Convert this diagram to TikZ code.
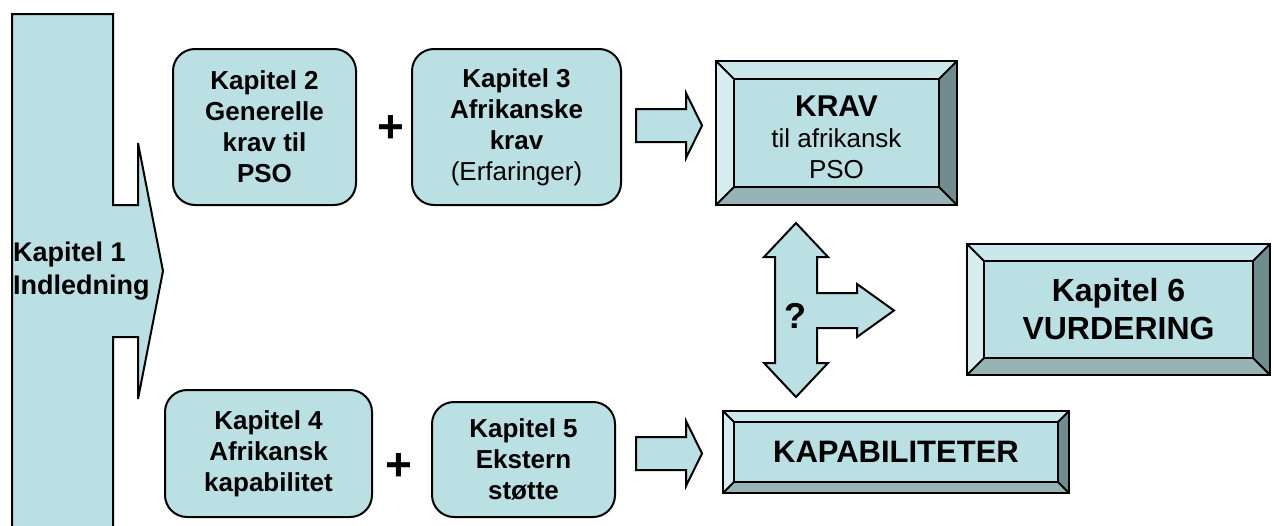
\documentclass[tikz,border=0pt]{standalone}
\usepackage{fontspec}
\setmainfont{Liberation Sans}
\usetikzlibrary{calc}
\definecolor{fillc}{RGB}{187,224,227}
\definecolor{bevtop}{RGB}{202,232,235}
\definecolor{bevleft}{RGB}{216,237,239}
\definecolor{bevright}{RGB}{112,140,142}
\definecolor{bevbot}{RGB}{150,179,182}
\tikzset{
  blockshape/.style={draw=black, line width=2pt, fill=fillc, line join=miter},
  chapbox/.style={draw=black, line width=2pt, fill=fillc, rounded corners=22pt, align=center, inner sep=0pt,
    font=\fontsize{26}{31}\selectfont\bfseries},
  bevbox/.style={fill=fillc, draw=none, inner sep=0pt, align=center},
  bevline/.style={draw=black, line width=2pt, line join=miter},
  plussign/.style={inner sep=0pt, font=\fontsize{46}{46}\selectfont\bfseries},
}
\newcommand\drawbevel[2]{%
  \fill[bevtop] (#1.north west) -- (#1.north east) -- ($(#1.north east)+(-#2,#2)$) -- ($(#1.north west)+(#2,#2)$) -- cycle;
  \fill[bevleft] (#1.north west) -- ($(#1.north west)+(#2,#2)$) -- ($(#1.south west)+(#2,-#2)$) -- (#1.south west) -- cycle;
  \fill[bevright] (#1.north east) -- ($(#1.north east)+(-#2,#2)$) -- ($(#1.south east)+(-#2,-#2)$) -- (#1.south east) -- cycle;
  \fill[bevbot] (#1.south west) -- ($(#1.south west)+(#2,-#2)$) -- ($(#1.south east)+(-#2,-#2)$) -- (#1.south east) -- cycle;
  \draw[bevline] (#1.north west) rectangle (#1.south east);
  \draw[bevline] ($(#1.north west)+(#2,#2)$) rectangle ($(#1.south east)+(-#2,-#2)$);
  \draw[bevline] (#1.north west) -- ($(#1.north west)+(#2,#2)$);
  \draw[bevline] (#1.north east) -- ($(#1.north east)+(-#2,#2)$);
  \draw[bevline] (#1.south west) -- ($(#1.south west)+(#2,-#2)$);
  \draw[bevline] (#1.south east) -- ($(#1.south east)+(-#2,-#2)$);
}
\begin{document}
\begin{tikzpicture}[x=1pt,y=-1pt]
\useasboundingbox (0,0) rectangle (1274,525);
\clip (0,0) rectangle (1274,525);
\fill[white] (0,0) rectangle (1274,525);

% Kapitel 1 big arrow
\draw[blockshape] (12,14) -- (113,14) -- (113,205) -- (138,205) -- (138,143) -- (163,271)
  -- (138,399) -- (138,337) -- (113,337) -- (113,540) -- (12,540) -- cycle;
\node[anchor=west, inner sep=0pt, align=left, font=\fontsize{27}{33}\selectfont\bfseries] (k1) at (13,271) {Kapitel 1\\Indledning};

% chapter boxes
\node[chapbox, minimum width=183pt, minimum height=156pt] (k2) at (264.5,127) {Kapitel 2\\Generelle\\krav til\\PSO};
\node[chapbox, minimum width=209pt, minimum height=156pt] (k3) at (516.5,127) {Kapitel 3\\Afrikanske\\krav\\{\mdseries (Erfaringer)}};
\node[chapbox, minimum width=207pt, minimum height=127pt] (k4) at (268.5,453.5) {Kapitel 4\\Afrikansk\\kapabilitet};
\node[chapbox, minimum width=183pt, minimum height=115pt] (k5) at (523.5,459.5) {Kapitel 5\\Ekstern\\støtte};

\node[plussign] (p1) at (391,129) {+};
\node[plussign] (p2) at (399,467) {+};

% block arrows
\draw[blockshape] (636,109) -- (686,109) -- (686,93) -- (702,125.5) -- (686,158) -- (686,142) -- (636,142) -- cycle;
\draw[blockshape] (636,437) -- (686,437) -- (686,421) -- (702,453.5) -- (686,486) -- (686,470) -- (636,470) -- cycle;

% bevel boxes
\node[bevbox, minimum width=241pt, minimum height=144pt] (krav) at (836.5,133) {};
\drawbevel{krav}{18}
\node[inner sep=0pt, align=center, font=\fontsize{26}{31}\selectfont] (kravtxt) at (836.5,137) {{\fontsize{30}{34}\selectfont\bfseries KRAV}\\til afrikansk\\PSO};

\node[bevbox, minimum width=303pt, minimum height=131pt] (k6) at (1118.5,309.5) {};
\drawbevel{k6}{17}
\node[inner sep=0pt, align=center, font=\fontsize{32}{38}\selectfont\bfseries] (k6txt) at (1118.5,309.5) {Kapitel 6\\VURDERING};

\node[bevbox, minimum width=346pt, minimum height=82pt] (kap) at (896,452) {};
\drawbevel{kap}{11}
\node[inner sep=0pt, font=\fontsize{31}{36}\selectfont\bfseries] (kaptxt) at (896,452) {KAPABILITETER};

% three-way arrow
\draw[blockshape] (796,223) -- (828,257) -- (817,257) -- (817,293) -- (857,293) -- (857,284) -- (894,310.5)
  -- (857,337) -- (857,328) -- (817,328) -- (817,363) -- (828,363) -- (796,397) -- (764,363)
  -- (775,363) -- (775,257) -- (764,257) -- cycle;
\node[inner sep=0pt, font=\fontsize{36}{36}\selectfont\bfseries] (q) at (795,316) {?};
\end{tikzpicture}
\end{document}
